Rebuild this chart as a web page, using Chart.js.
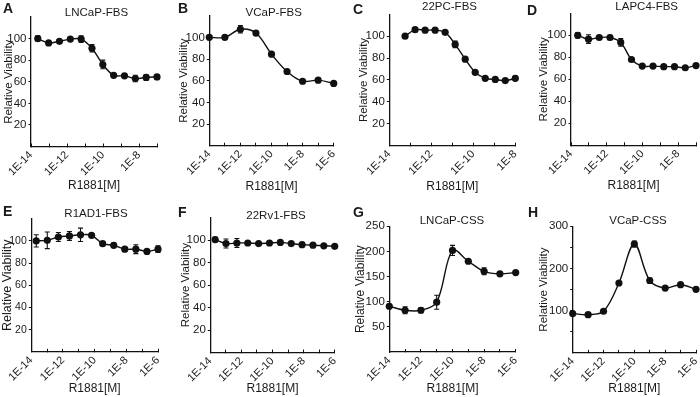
<!DOCTYPE html>
<html>
<head>
<meta charset="utf-8">
<title>R1881 dose response</title>
<script src="https://cdn.jsdelivr.net/npm/chart.js@4.4.1/dist/chart.umd.min.js"></script>
<style>
  body { margin: 0; background: #fff; }
  #fig { position: relative; width: 700px; height: 397px; font-family: 'Liberation Sans', Arial, sans-serif; color: #1a1a1a; }
  #fig canvas { position: absolute; }
  .lbl { position: absolute; font-weight: bold; font-size: 14px; line-height: 14px; }
  .ttl { position: absolute; width: 120px; text-align: center; font-size: 11.5px; line-height: 14px; }
</style>
</head>
<body>
<div id="fig"></div>
<script>
// R1881 concentrations (M)
const dosesFourFold = [2.38e-14, 9.54e-14, 3.81e-13, 1.53e-12, 6.10e-12, 2.44e-11, 9.77e-11, 3.91e-10, 1.56e-9, 6.25e-9, 2.5e-8, 1e-7];
const dosesThreeFold = [5.65e-14, 1.69e-13, 5.08e-13, 1.52e-12, 4.57e-12, 1.37e-11, 4.12e-11, 1.23e-10, 3.70e-10, 1.11e-9, 3.33e-9, 1e-8];
const dosesFiveFold = [2.05e-14, 1.02e-13, 5.12e-13, 2.56e-12, 1.28e-11, 6.4e-11, 3.2e-10, 1.6e-9, 8e-9, 4e-8, 2e-7, 1e-6];
const dosesDecade = [1e-14, 1e-13, 1e-12, 1e-11, 1e-10, 1e-9, 1e-8, 1e-7, 1e-6];

// x tick positions (one per decade)
const decadeTicks = [1e-14, 1e-13, 1e-12, 1e-11, 1e-10, 1e-9, 1e-8, 1e-7, 1e-6];

// relative viability (mean) and error
const viabA = [100, 96, 97.5, 99.5, 99.5, 91, 76, 66, 65.5, 63, 64, 64.5];
const errA  = [2.5, 1.5, 1.5, 1.5, 3, 3.5, 4, 1.5, 1.5, 3, 2.5, 2];
const viabB = [100, 100, 107.5, 104, 84.5, 68.5, 59.5, 60.5, 57.5];
const errB  = [1.5, 1, 3.5, 1.5, 1, 1.5, 1.5, 1.5, 1];
const viabC = [100, 106, 105.5, 105.5, 103.5, 92.5, 79, 67, 61.5, 60.5, 59.5, 61.5];
const errC  = [1, 1.5, 1, 1, 1.5, 3, 1.5, 1.5, 1.5, 1, 1, 2];
const viabD = [100, 96.5, 98, 98, 93.5, 78, 72, 72, 71.5, 71.5, 70.5, 72.5];
const errD  = [2.5, 4, 1.5, 2, 3.5, 1.5, 1, 1, 1, 1, 1, 1.5];
const viabE = [100, 100.5, 103.5, 104.5, 105.5, 105, 97.5, 96, 92.5, 92.5, 90.5, 92.5];
const errE  = [5.5, 7.5, 4, 4, 6, 1.5, 1.5, 2, 2, 4, 1.5, 3];
const viabF = [100.5, 97, 97.5, 97.5, 97, 97.5, 98, 97, 96, 95.5, 95, 94.5];
const errF  = [2, 4, 4, 1, 1, 1, 1.5, 1, 1, 1, 1, 1];
const viabG = [91, 83, 83, 99, 202, 180.5, 160.5, 155.5, 158];
const errG  = [4, 7, 5, 14, 10, 2, 7, 2, 3];
const viabH = [93, 90.5, 98.5, 165.5, 258, 171.5, 153.5, 161.5, 150.5];
const errH  = [3, 2, 4, 2, 7, 6, 2, 2, 2];

const panels = [
  { key: 'A', title: 'LNCaP-FBS', doses: dosesFourFold, viab: viabA, err: errA, xMax: 1e-7, yMax: 120, yStep: 20, yLabelStep: 20 },
  { key: 'B', title: 'VCaP-FBS', doses: dosesDecade, viab: viabB, err: errB, xMax: 1e-6, yMax: 120, yStep: 20, yLabelStep: 20 },
  { key: 'C', title: '22PC-FBS', doses: dosesThreeFold, viab: viabC, err: errC, xMax: 1e-8, yMax: 120, yStep: 20, yLabelStep: 20 },
  { key: 'D', title: 'LAPC4-FBS', doses: dosesFourFold, viab: viabD, err: errD, xMax: 1e-7, yMax: 120, yStep: 20, yLabelStep: 20 },
  { key: 'E', title: 'R1AD1-FBS', doses: dosesFiveFold, viab: viabE, err: errE, xMax: 1e-6, yMax: 120, yStep: 20, yLabelStep: 20 },
  { key: 'F', title: '22Rv1-FBS', doses: dosesFiveFold, viab: viabF, err: errF, xMax: 1e-6, yMax: 120, yStep: 20, yLabelStep: 20 },
  { key: 'G', title: 'LNCaP-CSS', doses: dosesDecade, viab: viabG, err: errG, xMax: 1e-6, yMax: 250, yStep: 50, yLabelStep: 50 },
  { key: 'H', title: 'VCaP-CSS', doses: dosesDecade, viab: viabH, err: errH, xMax: 1e-6, yMax: 300, yStep: 50, yLabelStep: 100 }
];

// where each panel sits (canvas box, plot area inside it, text spots)
const layoutOf = {
  A: { x: 0,   y: 0,   h: 197, left: 31,   right: 157,   top: 17,   bottom: 146.5, yPad: 1.8,  yFont: 11.5, tickFont: 11.5, xPad: 3.8, tx: 96.5,  ty: 12,    lx: 3,   ly: 7.5 },
  B: { x: 175, y: 0,   h: 197, left: 34.3, right: 158.7, top: 15.7, bottom: 145.7, yPad: 2.3,  yFont: 11.5, tickFont: 11.5, xPad: 2.8, tx: 273.7, ty: 12,    lx: 178, ly: 8 },
  C: { x: 350, y: 0,   h: 197, left: 39.3, right: 165.3, top: 14.3, bottom: 145.7, yPad: 7.3,  yFont: 11.5, tickFont: 11.5, xPad: 2.8, tx: 449.5, ty: 6,     lx: 353, ly: 9 },
  D: { x: 525, y: 0,   h: 197, left: 46,   right: 172,   top: 13.3, bottom: 145.3, yPad: 12.3, yFont: 11.5, tickFont: 11.5, xPad: 3.8, tx: 646.7, ty: 6,     lx: 527, ly: 9.5 },
  E: { x: 0,   y: 197, h: 200, left: 31.3, right: 158,   top: 21.7, bottom: 154.8, yPad: 0.3,  yFont: 12.5, tickFont: 10.5, xPad: 0.8, tx: 96,    ty: 213,   lx: 3,   ly: 211 },
  F: { x: 175, y: 197, h: 200, left: 35.3, right: 159.7, top: 20.7, bottom: 155.5, yPad: 3.8,  yFont: 11.5, tickFont: 11.5, xPad: 0.8, tx: 276,   ty: 215,   lx: 178, ly: 212 },
  G: { x: 350, y: 197, h: 200, left: 39.3, right: 165.7, top: 29.3, bottom: 155,   yPad: 3.5,  yFont: 12,   tickFont: 11.5, xPad: 0.8, tx: 452,   ty: 219.5, lx: 353, ly: 211.5 },
  H: { x: 525, y: 197, h: 200, left: 47.7, right: 171.7, top: 29.3, bottom: 155.8, yPad: 11.8, yFont: 11.5, tickFont: 11.5, xPad: 0.8, tx: 638,   ty: 220,   lx: 528, ly: 211.5 }
};

Chart.defaults.font.family = "'Liberation Sans', Arial, sans-serif";
Chart.defaults.color = '#1a1a1a';

const INK = '#111';

// vertical error bars with caps, placed through the chart scales
const errorBars = {
  id: 'errorBars',
  afterDatasetsDraw(chart) {
    const { ctx, scales: { x, y } } = chart;
    ctx.save();
    ctx.strokeStyle = INK;
    ctx.lineWidth = 1.1;
    chart.data.datasets.forEach(ds => {
      (ds.errors || []).forEach((e, j) => {
        const pt = ds.data[j];
        const px = x.getPixelForValue(pt.x);
        const yTop = y.getPixelForValue(pt.y + e);
        const yBot = y.getPixelForValue(pt.y - e);
        ctx.beginPath();
        ctx.moveTo(px, yTop); ctx.lineTo(px, yBot);
        ctx.moveTo(px - 2.5, yTop); ctx.lineTo(px + 2.5, yTop);
        ctx.moveTo(px - 2.5, yBot); ctx.lineTo(px + 2.5, yBot);
        ctx.stroke();
      });
    });
    ctx.restore();
  }
};

const fig = document.getElementById('fig');
const W = 175;

function addText(cls, text, left, top) {
  const d = document.createElement('div');
  d.className = cls;
  d.textContent = text;
  d.style.left = left + 'px';
  d.style.top = top + 'px';
  fig.appendChild(d);
}

function makePanel(p) {
  const L = layoutOf[p.key];
  const cv = document.createElement('canvas');
  cv.width = W;
  cv.height = L.h;
  cv.style.left = L.x + 'px';
  cv.style.top = L.y + 'px';
  fig.appendChild(cv);

  addText('lbl', p.key, L.lx, L.ly - 7);
  addText('ttl', p.title, L.tx - 60, L.ty - 7);

  new Chart(cv, {
    type: 'line',
    data: {
      datasets: [{
        data: p.doses.map((d, i) => ({ x: d, y: p.viab[i] })),
        errors: p.err,
        borderColor: INK,
        borderWidth: 1.4,
        pointRadius: 3.6,
        pointBackgroundColor: INK,
        pointBorderWidth: 0,
        tension: 0.35,
        clip: false
      }]
    },
    options: {
      responsive: false,
      animation: false,
      layout: { padding: { top: L.top, right: W - L.right, left: 0, bottom: 0 } },
      plugins: { legend: { display: false }, tooltip: { enabled: false } },
      scales: {
        x: {
          type: 'logarithmic',
          min: 1e-14,
          max: p.xMax,
          afterBuildTicks: s => { s.ticks = decadeTicks.filter(v => v <= p.xMax).map(v => ({ value: v })); },
          afterFit: s => { s.height = L.h - L.bottom; s.paddingLeft = s.paddingRight = s.paddingTop = s.paddingBottom = 0; },
          grid: { display: true, drawOnChartArea: false, drawTicks: true, tickLength: -3, color: INK, lineWidth: 1 },
          border: { display: true, color: INK, width: 1.3 },
          ticks: {
            autoSkip: false,
            minRotation: 45,
            maxRotation: 45,
            padding: 5,
            font: { size: 11 },
            callback: v => {
              const e = Math.round(Math.log10(v));
              return e % 2 === 0 ? '1E' + e : '';
            }
          },
          title: { display: true, text: 'R1881[M]', font: { size: 12 }, padding: L.xPad }
        },
        y: {
          min: 0,
          max: p.yMax,
          afterBuildTicks: s => {
            s.ticks = s.ticks.filter(t => t.value > 0 && (p.yMax !== 120 || t.value < 120));
          },
          afterFit: s => { s.width = L.left; s.paddingLeft = s.paddingRight = s.paddingTop = s.paddingBottom = 0; },
          grid: { display: true, drawOnChartArea: false, drawTicks: true, tickLength: 2.5, color: INK, lineWidth: 1 },
          border: { display: true, color: INK, width: 1.3 },
          ticks: {
            stepSize: p.yStep,
            padding: 2,
            font: { size: L.tickFont },
            callback: v => (v % p.yLabelStep === 0 ? v : '')
          },
          title: { display: true, text: 'Relative Viability', font: { size: L.yFont }, padding: L.yPad }
        }
      }
    },
    plugins: [errorBars]
  });
}

panels.forEach(makePanel);
</script>
</body>
</html>
